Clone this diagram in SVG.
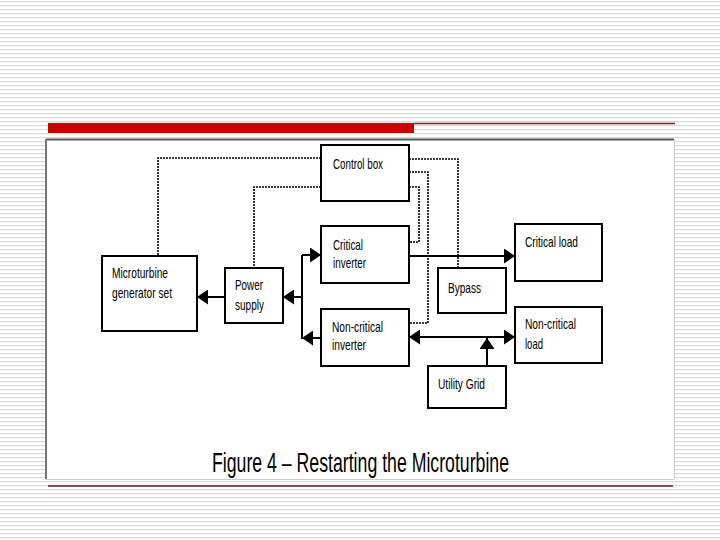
<svg xmlns="http://www.w3.org/2000/svg" width="720" height="540" viewBox="0 0 720 540">
<defs>
<pattern id="bg" width="8" height="4" patternUnits="userSpaceOnUse"><rect y="1" width="8" height="1.2" fill="#d9d9d9"/></pattern>
<marker id="ah" markerUnits="userSpaceOnUse" markerWidth="12" markerHeight="15" refX="11" refY="7.5" orient="auto"><path d="M0,0 L11,7.5 L0,15 z" fill="#000"/></marker>
</defs>
<style>
.box{fill:#fff;stroke:#000;stroke-width:2}
.lbl{font-family:"Liberation Sans Narrow","Liberation Sans",Arial,sans-serif;font-size:14.5px;fill:#000}
.sol{fill:none;stroke:#000;stroke-width:2}
.arr{fill:none;stroke:#000;stroke-width:2;marker-end:url(#ah)}
.dot{fill:none;stroke:#000;stroke-width:1.6;stroke-dasharray:2 1}
.cap{font-family:"Liberation Sans Narrow","Liberation Sans",Arial,sans-serif;font-size:27px;fill:#000}
</style>
<rect width="720" height="540" fill="#fff"/>
<rect width="720" height="540" fill="url(#bg)"/>
<rect x="48" y="123" width="366" height="10" fill="#cc0000"/>
<line x1="414" y1="123.5" x2="675" y2="123.5" stroke="#7a1f2a" stroke-width="1.5"/>
<rect x="46" y="139" width="628" height="340" fill="#fff"/>
<line x1="46" y1="139.5" x2="674" y2="139.5" stroke="#555" stroke-width="2"/>
<line x1="46" y1="139" x2="46" y2="479" stroke="#777" stroke-width="2"/>
<line x1="674.5" y1="139" x2="674.5" y2="479" stroke="#ccc" stroke-width="1"/>
<line x1="46" y1="479.5" x2="674" y2="479.5" stroke="#ccc" stroke-width="1"/>
<line x1="48" y1="486" x2="673" y2="486" stroke="#6e1a24" stroke-width="1.5"/>

<g id="connectors">
<path class="dot" d="M321,158 H158 V256"/>
<path class="dot" d="M321,187 H254 V268"/>
<path class="dot" d="M409,159 H458 V268"/>
<path class="dot" d="M409,172 H428 V323 H409"/>
<path class="dot" d="M409,187 H419 V242 H409"/>
<path class="sol" d="M302,255 V339"/>
<path class="arr" d="M225,297 H197"/>
<path class="arr" d="M302,297 H283"/>
<path class="arr" d="M302,255 H321"/>
<path class="arr" d="M321,338 H302"/>
<path class="arr" d="M409,256 H515"/>
<path class="arr" d="M460,337 H409"/>
<path class="arr" d="M460,337 H515"/>
<path class="arr" d="M487,366 V338"/>
</g>

<g id="control-box"><rect class="box" x="321" y="145" width="88" height="56"/><text class="lbl" x="333" y="169" textLength="50" lengthAdjust="spacingAndGlyphs">Control box</text></g>
<g id="critical-inverter"><rect class="box" x="321" y="226" width="88" height="57"/><text class="lbl" x="333" y="250" textLength="30" lengthAdjust="spacingAndGlyphs">Critical</text><text class="lbl" x="333" y="268" textLength="33" lengthAdjust="spacingAndGlyphs">inverter</text></g>
<g id="noncritical-inverter"><rect class="box" x="321" y="309" width="88" height="57"/><text class="lbl" x="332" y="332" textLength="51" lengthAdjust="spacingAndGlyphs">Non-critical</text><text class="lbl" x="332" y="350" textLength="34" lengthAdjust="spacingAndGlyphs">inverter</text></g>
<g id="microturbine"><rect class="box" x="102" y="256" width="95" height="75"/><text class="lbl" x="112" y="278" textLength="56" lengthAdjust="spacingAndGlyphs">Microturbine</text><text class="lbl" x="112" y="298" textLength="60" lengthAdjust="spacingAndGlyphs">generator set</text></g>
<g id="power-supply"><rect class="box" x="225" y="268" width="58" height="55"/><text class="lbl" x="235" y="290" textLength="28" lengthAdjust="spacingAndGlyphs">Power</text><text class="lbl" x="235" y="310" textLength="29" lengthAdjust="spacingAndGlyphs">supply</text></g>
<g id="critical-load"><rect class="box" x="515" y="224" width="87" height="57"/><text class="lbl" x="525" y="247" textLength="53" lengthAdjust="spacingAndGlyphs">Critical load</text></g>
<g id="bypass"><rect class="box" x="438" y="268" width="68" height="45"/><text class="lbl" x="448" y="293" textLength="33" lengthAdjust="spacingAndGlyphs">Bypass</text></g>
<g id="noncritical-load"><rect class="box" x="515" y="307" width="87" height="56"/><text class="lbl" x="525" y="329" textLength="51" lengthAdjust="spacingAndGlyphs">Non-critical</text><text class="lbl" x="525" y="349" textLength="18" lengthAdjust="spacingAndGlyphs">load</text></g>
<g id="utility-grid"><rect class="box" x="428" y="366" width="78" height="42"/><text class="lbl" x="438" y="389" textLength="47" lengthAdjust="spacingAndGlyphs">Utility Grid</text></g>

<text class="cap" x="212" y="472" textLength="297" lengthAdjust="spacingAndGlyphs">Figure 4 – Restarting the Microturbine</text>
</svg>
